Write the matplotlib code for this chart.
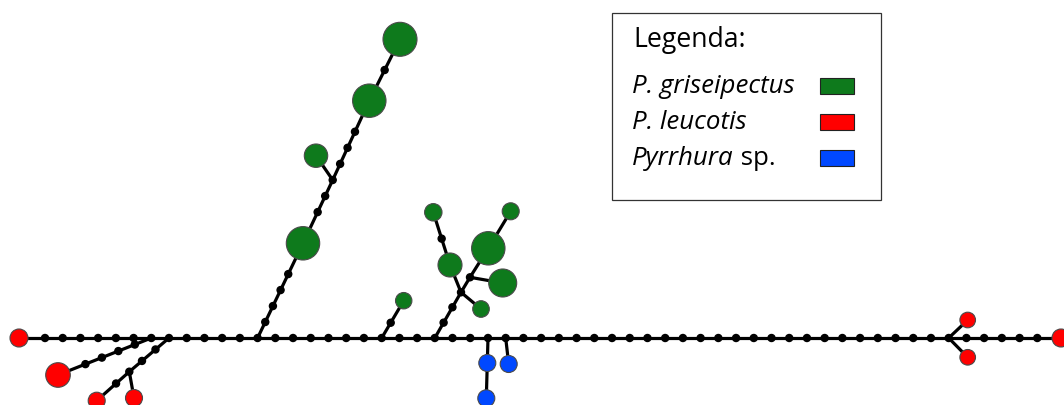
import numpy as np
import matplotlib
matplotlib.use("Agg")
import matplotlib.pyplot as plt
from matplotlib.patches import Circle, Rectangle

# ---------------- data: haplotype network ----------------
# group: G = P. griseipectus, R = P. leucotis, B = Pyrrhura sp., m = median / junction
node_names = ["RL", "D0", "J6", "J7", "J12", "J19", "J22", "J25", "J26", "J51", "D56", "RR",
              "RA", "Jb", "Rb1", "Rb2",
              "G1", "Ja", "Gs", "G2", "G3",
              "Gsm",
              "Jc", "ga", "gb", "gc", "Jd", "gd", "ge", "gf",
              "b1", "b2", "b3",
              "r1", "r2"]
node_x = [19, 45, 151.3, 169.0, 257.6, 381.7, 434.8, 488.0, 505.7, 948.7, 1037.3, 1061,
          58, 129.3, 134, 96.7,
          303, 332.7, 316, 369.3, 400,
          403.7,
          461, 481, 450, 433.3, 470, 502.7, 488.3, 510.7,
          487.3, 486.3, 508.7,
          967.7, 967.7]
node_y = [339, 339, 339, 339, 339, 339, 339, 339, 339, 339, 339, 339,
          376, 372.7, 399, 401.7,
          244.3, 181, 156.7, 101.7, 40.3,
          301.7,
          293.3, 310, 266, 213.3, 278.3, 284, 249.3, 212.3,
          364, 399.3, 365,
          321, 358.3]
node_r = [9, 0, 0, 0, 0, 0, 0, 0, 0, 0, 0, 9,
          12.3, 0, 8.5, 8.5,
          16.7, 0, 11.7, 16.7, 17,
          8.2,
          0, 8.3, 12, 8.7, 0, 14, 16.7, 8.5,
          8.5, 8.5, 8.5,
          7.8, 7.8]
node_group = ["R", "m", "m", "m", "m", "m", "m", "m", "m", "m", "m", "R",
              "R", "m", "R", "R",
              "G", "m", "G", "G", "G",
              "G",
              "m", "G", "G", "G", "m", "G", "G", "G",
              "B", "B", "B",
              "R", "R"]

# edges: (from, to, number of mutation-step dots on the edge)
edge_from = ["RL", "D0", "J6", "J7", "J12", "J19", "J22", "J25", "J26", "J51", "D56",
             "J6", "J7", "Jb", "Jb",
             "J12", "Ja", "Ja", "Ja", "G2",
             "J19",
             "J22", "Jc", "Jc", "gb", "Jc", "Jd", "Jd", "ge",
             "J25", "b1", "J26",
             "J51", "J51"]
edge_to = ["D0", "J6", "J7", "J12", "J19", "J22", "J25", "J26", "J51", "D56", "RR",
           "RA", "Jb", "Rb1", "Rb2",
           "G1", "G1", "Gs", "G2", "G3",
           "Gsm",
           "Jc", "ga", "gb", "gc", "Jd", "gd", "ge", "gf",
           "b1", "b2", "b3",
           "r1", "r2"]
edge_steps = [0, 5, 0, 4, 6, 2, 2, 0, 24, 4, 0,
              4, 2, 0, 1,
              4, 2, 0, 3, 1,
              1,
              2, 0, 0, 1, 0, 0, 0, 0,
              0, 0, 0,
              0, 0]

legend_labels = ["P. griseipectus", "P. leucotis", "Pyrrhura"]
legend_title = "Legenda:"

colors = {"G": "#0e7a1c", "R": "#ff0000", "B": "#0048ff", "m": "#000000"}

# ---------------- figure ----------------
W, H = 1064, 406
fig = plt.figure(figsize=(W / 100, H / 100), dpi=100)
ax = fig.add_axes([0, 0, 1, 1])
ax.set_xlim(0, W)
ax.set_ylim(H, 0)
ax.set_aspect("equal")
ax.axis("off")

pos = {n: np.array([x, y]) for n, x, y in zip(node_names, node_x, node_y)}
grp = dict(zip(node_names, node_group))
rad = dict(zip(node_names, node_r))

STEP = 17.72
LW = 2.3
DOT_R = 3.5

for a, b, n in zip(edge_from, edge_to, edge_steps):
    pa, pb = pos[a], pos[b]
    ax.plot([pa[0], pb[0]], [pa[1], pb[1]], color="black", lw=LW, zorder=1,
            solid_capstyle="round")
    if n == 0:
        continue
    d = pb - pa
    L = np.hypot(*d)
    u = d / L
    if grp[a] == "m":
        pts = [pa + u * STEP * (i + 1) for i in range(n)]
    elif grp[b] == "m":
        pts = [pb - u * STEP * (i + 1) for i in range(n)]
    else:
        pts = [pa + d * (i + 1) / (n + 1) for i in range(n)]
    for p in pts:
        ax.add_patch(Circle(p, DOT_R, color="black", zorder=2))

for n in node_names:
    p = pos[n]
    if grp[n] == "m":
        ax.add_patch(Circle(p, DOT_R, color="black", zorder=2))
    else:
        ax.add_patch(Circle(p, rad[n], facecolor=colors[grp[n]], edgecolor="#4a4a4a",
                            lw=0.8, zorder=3))

# ---------------- legend ----------------
FONT = "Open Sans"
ax.add_patch(Rectangle((611.5, 13.5), 269, 187, facecolor="white", edgecolor="#333333",
                       lw=0.9, zorder=5))
ax.text(633, 47.5, legend_title, fontsize=19.2, family=FONT, va="baseline", ha="left",
        color="black", zorder=6)
rows_y = [93.3, 129.3, 165.0]
sw_colors = [colors["G"], colors["R"], colors["B"]]
fig.canvas.draw()
renderer = fig.canvas.get_renderer()
for i, (lab, yy, c) in enumerate(zip(legend_labels, rows_y, sw_colors)):
    t = ax.text(632, yy, lab, fontsize=18.6, family=FONT, style="italic", va="baseline",
                ha="left", color="black", zorder=6)
    if i == 2:
        bb = t.get_window_extent(renderer=renderer)
        x_end = ax.transData.inverted().transform((bb.x1, bb.y0))[0]
        ax.text(x_end, yy, " sp.", fontsize=18.6, family=FONT, va="baseline",
                ha="left", color="black", zorder=6)
    ax.add_patch(Rectangle((820, yy - 14.5), 34, 16.5, facecolor=c, edgecolor="#222222",
                           lw=0.8, zorder=6))

fig.savefig("out.png", dpi=100)
